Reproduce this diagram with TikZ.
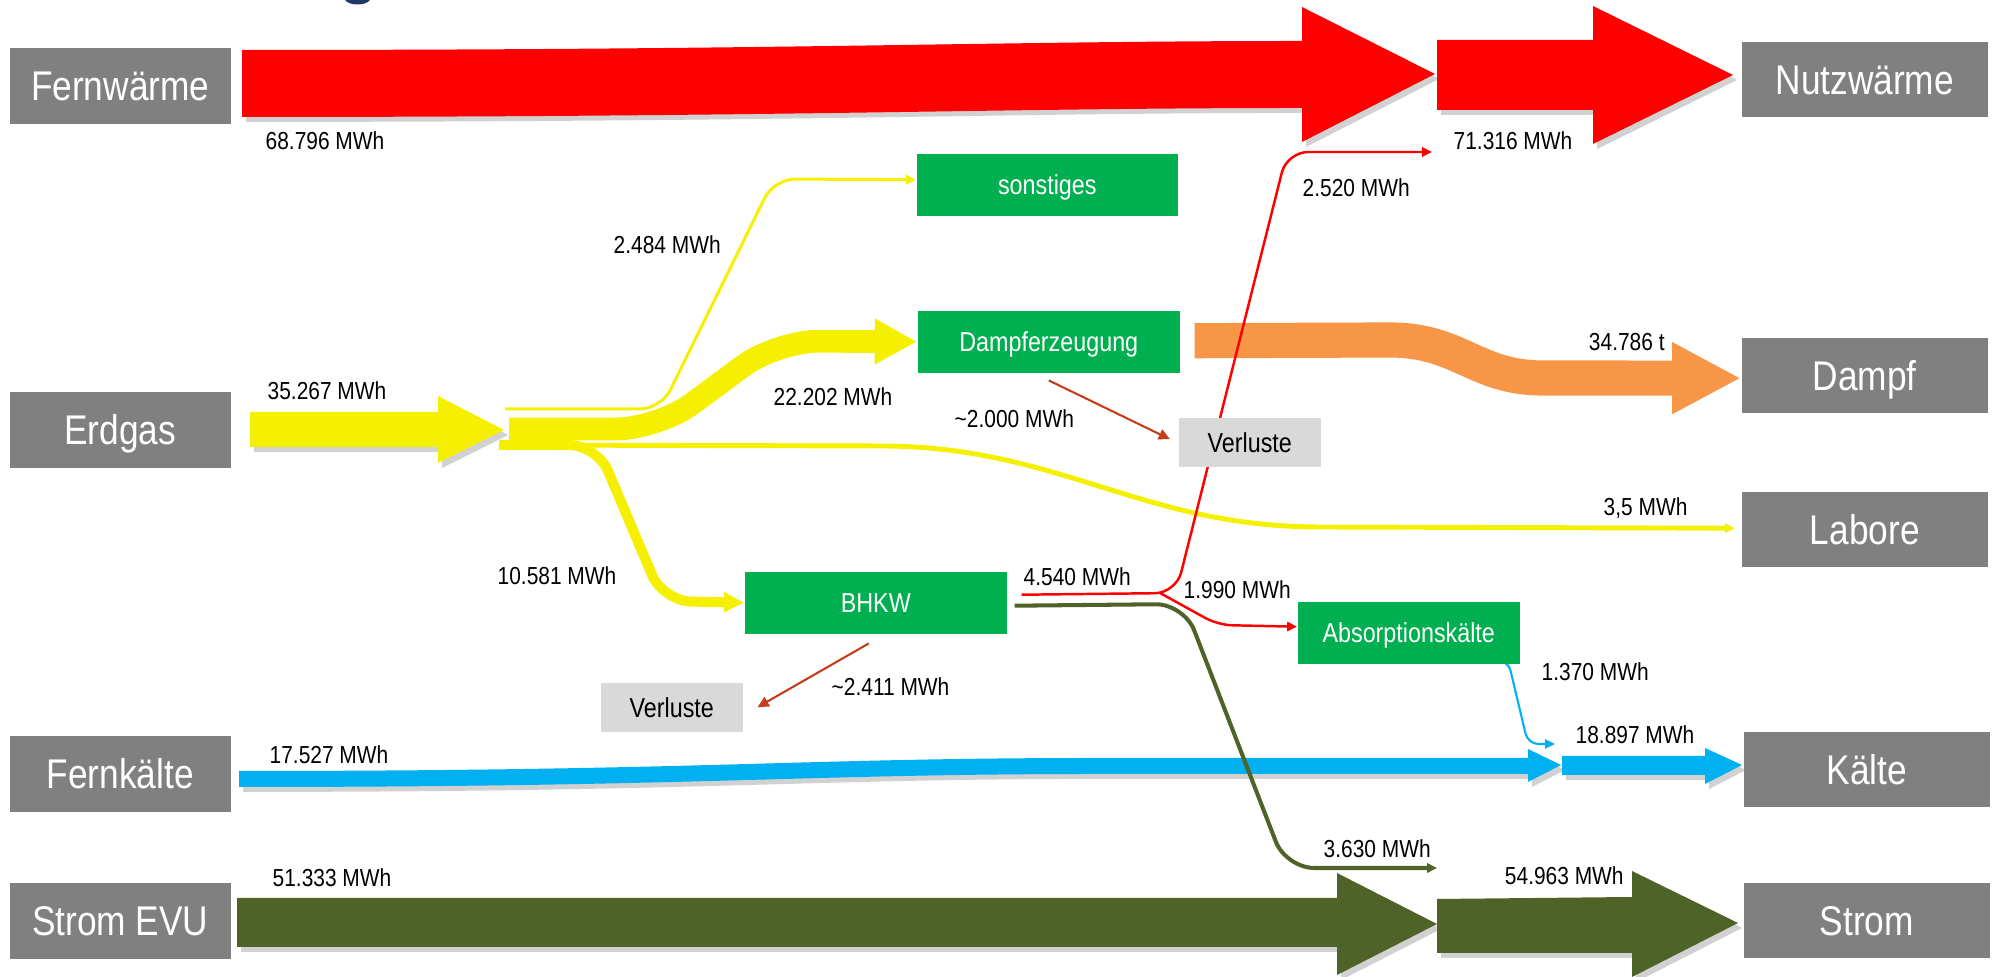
\documentclass[tikz,border=0pt]{standalone}
\usepackage{fontspec}
\setmainfont{Liberation Sans}[FakeStretch=0.85]
\usetikzlibrary{arrows.meta,calc,shadows}

\definecolor{boxgrau}{RGB}{128,128,128}
\definecolor{anlagengruen}{RGB}{0,176,80}
\definecolor{verlustgrau}{RGB}{217,217,217}
\definecolor{waermerot}{RGB}{255,0,0}
\definecolor{gasgelb}{RGB}{245,240,0}
\definecolor{dampforange}{RGB}{247,150,70}
\definecolor{kaelteblau}{RGB}{0,176,240}
\definecolor{stromoliv}{RGB}{79,98,40}
\definecolor{verlustrot}{RGB}{196,62,28}
\definecolor{titelblau}{RGB}{31,56,100}

\newcommand{\grossschrift}{\fontsize{11.8}{14}\selectfont}
\newcommand{\boxschrift}{\fontsize{7.8}{9.5}\selectfont}
\newcommand{\wertschrift}{\fontsize{7}{8.5}\selectfont}

\pgfdeclarelayer{bg}
\pgfsetlayers{bg,main}

\tikzset{
  quelle/.style={fill=boxgrau, text=white, font=\grossschrift, inner sep=0pt,
    text height=8.45pt, text depth=0pt, minimum width=2.21cm, minimum height=0.76cm, anchor=north west},
  senke/.style={quelle, minimum width=2.46cm, minimum height=0.75cm},
  anlage/.style={fill=anlagengruen, text=white, font=\boxschrift, inner sep=0pt,
    text height=5.58pt, text depth=0pt, minimum height=0.62cm, anchor=north west},
  verlust/.style={anlage, fill=verlustgrau, text=black, minimum width=1.42cm, minimum height=0.49cm},
  wert/.style={font=\wertschrift, inner sep=0pt, text height=5pt, text depth=0pt, anchor=west},
  schatten/.style={drop shadow={fill=black, opacity=0.18, shadow xshift=1.2pt, shadow yshift=-1.4pt}},
  kleinspitze/.tip={Triangle[width=2.6pt,length=2.8pt]},
  gelblinie/.style={draw=gasgelb, rounded corners=6pt, -kleinspitze},
  rotlinie/.style={draw=waermerot, line width=0.7pt, -kleinspitze},
  olivlinie/.style={draw=stromoliv, line width=1.15pt, rounded corners=8pt, -kleinspitze},
  blaulinie/.style={draw=kaelteblau, line width=0.6pt, rounded corners=3pt, -kleinspitze},
  verlustpfeil/.style={draw=verlustrot, line width=0.6pt, -{Triangle[width=3pt,length=3.2pt]}}
}

\begin{document}
\begin{tikzpicture}[x=0.01cm, y=-0.01cm]
\useasboundingbox (0,0) rectangle (1993,977);

% Rest des Titels
\fill[titelblau] (345,0) .. controls (349,6) and (366,6) .. (370,0) -- cycle;

% Quellen
\node[quelle] (fernw) at (9,47) {Fernwärme};
\node[quelle] (erdgas) at (9,391) {Erdgas};
\node[quelle] (fernk) at (9,735) {Fernkälte};
\node[quelle] (stromevu) at (9,882) {Strom EVU};

% Senken
\node[senke] (nutzw) at (1741,41) {Nutzwärme};
\node[senke] (dampf) at (1741,337) {Dampf};
\node[senke] (labore) at (1741,491) {Labore};
\node[senke] (kaelte) at (1743,731) {Kälte};
\node[senke] (strom) at (1743,882) {Strom};

% Anlagen
\node[anlage, minimum width=2.61cm] (sonst) at (916,153) {sonstiges};
\node[anlage, minimum width=2.62cm] (damp) at (917,310) {Dampferzeugung};
\node[anlage, minimum width=2.62cm] (bhkw) at (744,571) {BHKW};
\node[anlage, minimum width=2.22cm] (absorb) at (1297,601) {Absorptionskälte};

% Verluste
\node[verlust] (verl1) at (1178,417) {Verluste};
\node[verlust] (verl2) at (600,682) {Verluste};

\begin{pgfonlayer}{bg}
% Fernwaerme
\fill[waermerot, schatten] (242,50) .. controls (800,50) and (1000,41) .. (1302,41) -- (1302,7) -- (1435,74)
  -- (1302,142) -- (1302,108) .. controls (1000,108) and (800,117) .. (242,117) -- cycle;
\fill[waermerot, schatten] (1437,40) -- (1593,40) -- (1593,6) -- (1733,75) -- (1593,144) -- (1593,110) -- (1437,110) -- cycle;

% Fernkaelte
\fill[kaelteblau, schatten] (239,771) .. controls (700,771) and (800,758) .. (1096,758) -- (1528,758) -- (1528,749)
  -- (1561,765) -- (1528,782) -- (1528,774) -- (1096,774) .. controls (800,774) and (700,787) .. (239,787) -- cycle;
\fill[kaelteblau, schatten] (1562,756) -- (1705,756) -- (1705,748) -- (1742,765) -- (1705,784) -- (1705,775) -- (1562,775) -- cycle;

% Strom EVU
\fill[stromoliv, schatten] (237,898) -- (1337,898) -- (1337,873) -- (1437,924) -- (1337,975) -- (1337,947) -- (237,947) -- cycle;
\fill[stromoliv, schatten] (1437,899) -- (1632,897) -- (1632,871) -- (1738,923) -- (1632,977) -- (1632,953) -- (1437,953) -- cycle;

% Erdgas und Aufteilung
\fill[gasgelb, schatten] (250,412) -- (438,412) -- (438,396) -- (504,430) -- (438,463) -- (438,447) -- (250,447) -- cycle;
\draw[gelblinie, line width=0.85pt] (505,409) -- (661,409) -- (774,179) -- ($(sonst.west)+(0,-5)$);
\draw[draw=gasgelb, line width=6.5pt, rounded corners=12pt, -{Triangle[width=12.2pt,length=12pt]}]
  (509,429) -- (658,429) -- (777,341) -- (damp.west);
\draw[draw=gasgelb, line width=1.4pt, -kleinspitze] (499,445) -- (880,446)
  .. controls (1060,446) and (1140,527) .. (1320,527) -- ($(labore.west)+(-6,-1)$);
\draw[draw=gasgelb, line width=2.85pt, rounded corners=8pt, -{Triangle[width=5.4pt,length=5.7pt]}]
  (499,445) -- (597,445) -- (663,601) -- (bhkw.west);

% Dampf
\draw[dampforange, line width=10pt, -{Triangle[width=19pt,length=19.6pt]}] ($(damp.east)+(14,-1)$) -- (1390,340)
  .. controls (1460,340) and (1475,378) .. (1543,378) -- ($(dampf.west)+(0,3)$);

% BHKW Waerme
\coordinate (wj) at (1160,593);
\coordinate (nutzin) at (1432,152);
\draw[rotlinie, rounded corners=6pt] ($(bhkw.east)+(14,-8)$) -- (1176,593) -- (1287,152) -- (nutzin);
\draw[rotlinie, rounded corners=4pt] (wj) -- (1218,625) -- ($(absorb.west)+(0,-6)$);

% BHKW Strom
\coordinate (stromin) at (1437,868);
\draw[olivlinie] ($(bhkw.east)+(7,3)$) -- (1184,604) -- (1286,868) -- (stromin);

% Absorptionskaelte
\coordinate (kaeltein) at (1555,744);
\draw[blaulinie] ($(absorb.south east)+(-35,-2)$) -- (1508,660) -- (1528,744) -- (kaeltein);
\end{pgfonlayer}

% Verlustpfeile
\draw[verlustpfeil] ($(damp.south)+(0,7)$) -- ($(verl1.west)+(-8,-3)$);
\draw[verlustpfeil] ($(bhkw.south)+(-7,9)$) -- ($(verl2.east)+(14,0)$);

% Werte
\node[wert] at (265,141) {68.796 MWh};
\node[wert] at (267,391) {35.267 MWh};
\node[wert] at (613,245) {2.484 MWh};
\node[wert] at (773,397) {22.202 MWh};
\node[wert] at (954,419) {\textasciitilde2.000 MWh};
\node[wert] at (497,576) {10.581 MWh};
\node[wert] at (1023,577) {4.540 MWh};
\node[wert] at (1183,590) {1.990 MWh};
\node[wert] at (831,687) {\textasciitilde2.411 MWh};
\node[wert] at (1302,188) {2.520 MWh};
\node[wert] at (1453,141) {71.316 MWh};
\node[wert, fill=white, inner xsep=1.5pt, inner ysep=1.5pt] at (1583,342) {34.786 t};
\node[wert] at (1603,507) {3,5 MWh};
\node[wert] at (1541,672) {1.370 MWh};
\node[wert] at (1575,735) {18.897 MWh};
\node[wert] at (269,755) {17.527 MWh};
\node[wert] at (272,878) {51.333 MWh};
\node[wert] at (1323,849) {3.630 MWh};
\node[wert, fill=white, inner xsep=1.5pt, inner ysep=1.5pt] at (1499,876) {54.963 MWh};
\end{tikzpicture}
\end{document}
